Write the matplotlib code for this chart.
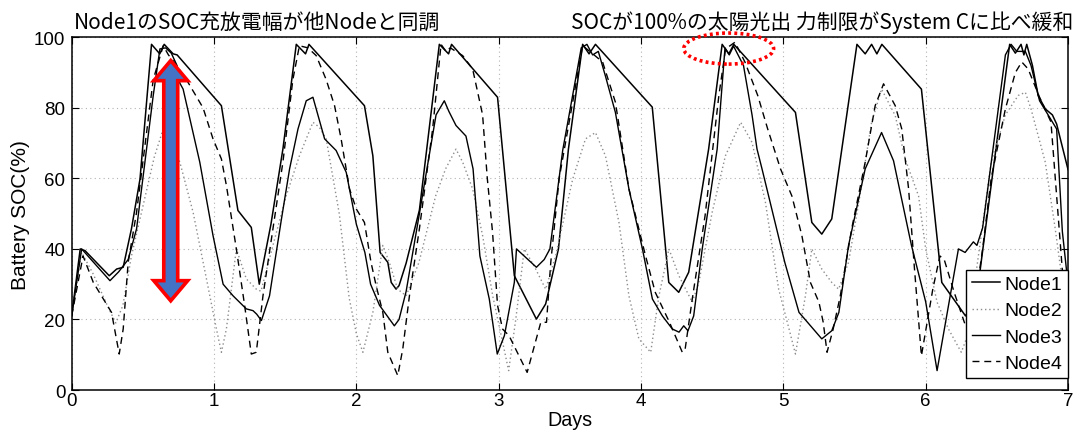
import matplotlib
matplotlib.use("Agg")
import matplotlib.pyplot as plt
from matplotlib.patches import Polygon, Ellipse

# ---- battery state of charge per node (days, %) ----
node1_t = [0.00, 0.06, 0.094, 0.264, 0.316, 0.362, 0.42, 0.48, 0.561, 0.619, 0.65, 0.713, 0.741,
           1.052, 1.168, 1.262, 1.318, 1.40, 1.484, 1.578, 1.643, 1.667, 2.057, 2.116, 2.167,
           2.221, 2.245, 2.279, 2.30, 2.35, 2.443, 2.583, 2.648, 2.669, 2.992, 3.11, 3.265,
           3.33, 3.42, 3.49, 3.59, 3.635, 3.68, 4.079, 4.195, 4.265, 4.335, 4.475, 4.57, 4.617,
           4.652, 5.085, 5.20, 5.27, 5.34, 5.517, 5.575, 5.62, 5.657, 5.692, 5.97, 6.113, 6.28,
           6.36, 6.45, 6.59, 6.63, 6.67, 6.69, 6.71, 6.75, 6.79, 6.84, 6.89, 6.92, 7.00]
node1_soc = [21, 40, 39.5, 32.4, 34.3, 34.8, 45.7, 59.8, 98, 95.3, 98, 95.3, 95,
             80.6, 50.9, 46.1, 30, 47, 68.3, 98, 95.3, 98, 80.6, 66.4, 39,
             36.2, 30.5, 28.6, 29.6, 36, 51, 98, 95.3, 98, 83, 32.4, 20.1,
             24.4, 40, 68.3, 98, 95.3, 98, 80.2, 30.5, 27.7, 33.4, 68.3, 98, 95.3,
             98, 78.7, 47.5, 44.2, 48.5, 98, 95.3, 98, 95.3, 98, 85.3, 30.5, 21,
             27, 55, 98, 95.5, 98, 95, 98, 92, 83.5, 79.7, 78, 75.4, 62.5]

node2_t = [0.00, 0.07, 0.15, 0.25, 0.31, 0.36, 0.42, 0.50, 0.58, 0.643, 0.68, 0.76, 0.853, 0.947,
           1.017, 1.052, 1.087, 1.157, 1.227, 1.297, 1.33, 1.414, 1.507, 1.60, 1.695, 1.74,
           1.788, 1.88, 1.95, 2.00, 2.046, 2.116, 2.186, 2.233, 2.29, 2.35, 2.44, 2.557, 2.627,
           2.70, 2.747, 2.817, 2.887, 2.958, 3.028, 3.07, 3.12, 3.18, 3.26, 3.33, 3.40, 3.52,
           3.61, 3.68, 3.75, 3.845, 3.915, 3.985, 4.068, 4.126, 4.196, 4.266, 4.36, 4.406,
           4.50, 4.593, 4.70, 4.78, 4.874, 4.967, 5.04, 5.085, 5.155, 5.20, 5.27, 5.34, 5.388,
           5.458, 5.53, 5.62, 5.69, 5.786, 5.856, 5.95, 6.00, 6.08, 6.16, 6.25, 6.30, 6.36,
           6.46, 6.56, 6.65, 6.70, 6.74, 6.84, 6.91, 6.98, 7.00]
node2_soc = [21, 39, 33, 24, 19, 24, 38, 52, 66, 74, 73, 64.6, 50.4, 31.5,
             17.3, 10.7, 17.3, 40, 31.5, 28.6, 28, 41, 55, 66.4, 75.9, 74.5,
             71.2, 50, 26, 16, 10.7, 22, 41, 36, 28.6, 26.7, 36.2, 55, 62.7,
             68.3, 64.6, 57, 43.8, 26.7, 13.5, 5.5, 20, 40, 34.3, 28.6, 38, 59.8,
             71.2, 73, 66.4, 47.5, 26.7, 14.5, 10.7, 26.7, 40, 32.4, 24.9, 30.5,
             50.4, 66.4, 75.9, 70.2, 53.2, 28.6, 17.3, 10.2, 26.7, 40, 34.3, 30.5, 28.6,
             36.2, 53.2, 75.9, 85.3, 77.8, 65.5, 55, 40, 24.9, 17.3, 10.7, 16, 35,
             64.6, 78, 83.5, 84.4, 79.7, 64.6, 45.7, 24.9, 20]

node3_t = [0.00, 0.07, 0.269, 0.33, 0.397, 0.456, 0.573, 0.62, 0.66, 0.70, 0.74, 0.76, 0.783,
           0.90, 0.993, 1.064, 1.134, 1.227, 1.274, 1.30, 1.333, 1.39, 1.472, 1.531, 1.59,
           1.648, 1.695, 1.777, 1.858, 1.929, 2.00, 2.06, 2.10, 2.163, 2.267, 2.30, 2.35,
           2.443, 2.56, 2.618, 2.65, 2.70, 2.77, 2.82, 2.868, 2.934, 2.99, 3.04, 3.11, 3.125,
           3.265, 3.32, 3.36, 3.45, 3.58, 3.62, 3.66, 3.70, 3.75, 3.82, 3.915, 4.01, 4.08,
           4.15, 4.22, 4.267, 4.30, 4.33, 4.37, 4.43, 4.535, 4.59, 4.62, 4.65, 4.72, 4.78,
           4.815, 4.85, 5.01, 5.11, 5.27, 5.34, 5.39, 5.458, 5.575, 5.69, 5.774, 5.90, 6.00,
           6.08, 6.23, 6.277, 6.335, 6.36, 6.40, 6.56, 6.60, 6.64, 6.70, 6.74, 6.80, 6.86,
           6.92, 6.96, 7.00]
node3_soc = [21, 40, 31, 33.5, 37, 45.7, 83.5, 96.7, 97, 95.5, 92, 87, 85.3,
             64.6, 43.8, 30, 26.7, 23, 22.5, 21.5, 19.7, 26.7, 48, 62.7, 74,
             82, 83, 71.2, 67.9, 61.7, 47, 39, 30, 24, 18.2, 20, 28,
             50, 78, 82, 79, 75, 72, 62.7, 38, 25.8, 10.2, 15.4, 30.5, 40,
             34.8, 37, 40, 68, 97, 98, 95, 96, 89, 78.7, 57, 40, 25.8,
             21, 17.3, 16.4, 18.2, 16.8, 21, 40, 68.3, 97, 95, 97.5, 92, 78,
             68.3, 62.7, 36.2, 22, 14.5, 16.8, 22, 41, 62.7, 73, 65, 41, 25,
             5.5, 40, 39, 42, 41, 46, 95, 98, 96, 96, 92, 82, 78,
             74, 45, 30]

node4_t = [0.00, 0.08, 0.152, 0.28, 0.334, 0.362, 0.397, 0.456, 0.573, 0.643, 0.68, 0.72, 0.806,
           0.923, 0.993, 1.052, 1.087, 1.157, 1.215, 1.262, 1.297, 1.344, 1.414, 1.484, 1.554,
           1.60, 1.66, 1.718, 1.788, 1.847, 1.893, 1.952, 2.00, 2.057, 2.103, 2.139, 2.186,
           2.221, 2.291, 2.326, 2.373, 2.443, 2.536, 2.595, 2.63, 2.66, 2.747, 2.817, 2.887,
           2.92, 2.957, 2.992, 3.027, 3.073, 3.20, 3.296, 3.336, 3.366, 3.425, 3.59, 3.64,
           3.73, 3.82, 3.915, 4.032, 4.10, 4.20, 4.29, 4.31, 4.36, 4.45, 4.547, 4.594, 4.66,
           4.73, 4.82, 4.89, 4.98, 5.06, 5.13, 5.19, 5.25, 5.28, 5.307, 5.35, 5.40, 5.48,
           5.575, 5.645, 5.704, 5.786, 5.832, 5.88, 5.92, 5.97, 6.05, 6.10, 6.13, 6.20, 6.28,
           6.33, 6.40, 6.46, 6.56, 6.63, 6.675, 6.72, 6.80, 6.88, 6.92, 6.96, 7.00]
node4_soc = [21, 38, 30.5, 22, 10.2, 17.3, 36.2, 50.4, 88, 97.6, 95, 93, 88,
             80, 71.2, 65.5, 58, 40, 24, 10.2, 10.7, 26.7, 45.7, 64.6, 88,
             97.6, 97, 94.8, 88, 80.6, 71.2, 57, 51.3, 47.5, 36.2, 29.6, 22,
             10.7, 4.1, 11.6, 26.7, 45.7, 74, 98, 96, 97, 94.8, 91, 78,
             60, 44.7, 24, 17.3, 15.4, 5, 19.2, 19.2, 36.2, 60, 97.6, 96,
             93, 81.6, 57, 38, 27.7, 19.2, 10.7, 11.6, 25.8, 49.4, 83.5, 96.7, 98.6,
             93, 83.5, 74, 62.7, 55, 43.8, 30.5, 24.9, 19.2, 10.7, 17.3, 26.7, 45.7,
             64.6, 80.6, 86.8, 80.6, 74, 57, 35, 9.7, 28.6, 38, 37, 27.7, 18.2,
             20, 40, 60, 79.7, 90, 93, 91, 83, 76, 55, 34, 28]

node_labels = ["Node1", "Node2", "Node3", "Node4"]
x_ticks = [0, 1, 2, 3, 4, 5, 6, 7]
y_ticks = [0, 20, 40, 60, 80, 100]

title_left = "Node1のSOC充放電幅が他Nodeと同調"
title_right = "SOCが100%の太陽光出 力制限がSystem Cに比べ緩和"

plt.rcParams['font.family'] = ['Liberation Sans', 'DejaVu Sans']
cjk = ['Noto Sans CJK JP', 'DejaVu Sans']

fig = plt.figure(figsize=(10.81, 4.39), dpi=100)
ax = fig.add_axes([0.0663, 0.1093, 0.9217, 0.8035])

ax.plot(node1_t, node1_soc, color='black', lw=1.1, ls='-', label=node_labels[0])
ax.plot(node2_t, node2_soc, color='0.55', lw=1.0, ls=(0, (1, 2)), label=node_labels[1])
ax.plot(node3_t, node3_soc, color='black', lw=1.0, ls='-', label=node_labels[2])
ax.plot(node4_t, node4_soc, color='black', lw=1.0, ls=(0, (5, 3.5)), label=node_labels[3])

ax.set_xlim(0, 7)
ax.set_ylim(0, 100)
ax.set_xticks(x_ticks)
ax.set_yticks(y_ticks)
ax.grid(True, color='0.7', ls=(0, (1, 3)), lw=0.8)
ax.tick_params(direction='in', length=5, width=0.8, top=True, right=True,
               labelsize=13.5)
ax.tick_params(axis='x', pad=1.5)
ax.tick_params(axis='y', pad=4.5)
for s in ax.spines.values():
    s.set_linewidth(1.1)
ax.set_xlabel("Days", fontsize=14.2, labelpad=1)
ax.set_ylabel("Battery SOC(%)", fontsize=15, labelpad=3)

leg = ax.legend(loc='lower right', bbox_to_anchor=(1.0, 0.034), borderaxespad=0,
                fontsize=14, frameon=True, fancybox=False, framealpha=1,
                edgecolor='black', handlelength=1.45, handletextpad=0.2,
                labelspacing=0.45, borderpad=0.3)
leg.get_frame().set_linewidth(1.0)

# double-headed arrow marking the charge/discharge range
xc, top, bot = 0.696, 93.4, 25.3
hw, sw, hl = 0.119, 0.049, 5.7
arrow_pts = [(xc, top), (xc + hw, top - hl), (xc + sw, top - hl), (xc + sw, bot + hl),
             (xc + hw, bot + hl), (xc, bot), (xc - hw, bot + hl), (xc - sw, bot + hl),
             (xc - sw, top - hl), (xc - hw, top - hl)]
ax.add_patch(Polygon(arrow_pts, closed=True, facecolor='#4472C4', edgecolor='#FF0000',
                     lw=2.6, joinstyle='miter', zorder=5))

# dotted ellipse around the day-4 peak
ax.add_patch(Ellipse((4.616, 96.8), 0.631, 8.8, fill=False, edgecolor='#FF0000',
                     lw=2.6, ls=(0, (0.8, 0.9)), clip_on=False, zorder=6))

fig.text(0.0685, 0.949, title_left, family=cjk, fontsize=15, ha='left', va='center')
fig.text(0.993, 0.949, title_right, family=cjk, fontsize=15, ha='right', va='center')

fig.savefig("out.png", dpi=100)
